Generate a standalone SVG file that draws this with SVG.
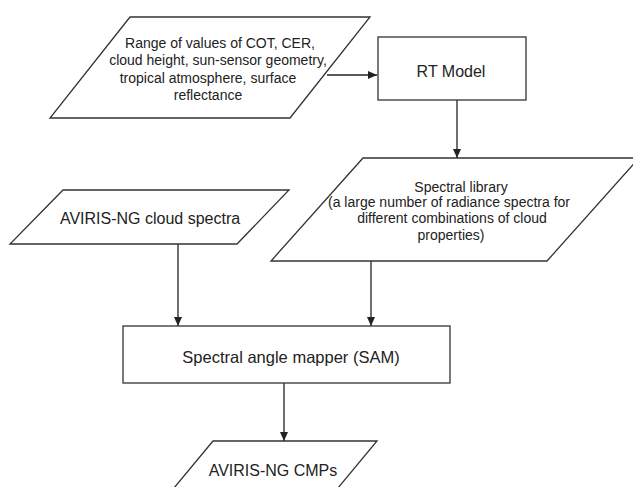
<svg xmlns="http://www.w3.org/2000/svg" width="633" height="487" viewBox="0 0 633 487">
<defs>
<style>
.shape{fill:#fff;stroke:#333;stroke-width:1.3}
.conn{fill:none;stroke:#222;stroke-width:1.3}
text{font-family:"Liberation Sans",Arial,sans-serif;fill:#222;text-anchor:middle}
.s14{font-size:14px}
.s16{font-size:16px}
</style>
<marker id="ah" markerWidth="9" markerHeight="8" refX="9" refY="4" orient="auto" markerUnits="userSpaceOnUse">
<path d="M0,0 L9,4 L0,8 Z" fill="#222"/>
</marker>
</defs>
<rect width="633" height="487" fill="#fff"/>
<g id="connectors">
<line class="conn" x1="327" y1="75" x2="377" y2="75" marker-end="url(#ah)"/>
<line class="conn" x1="457" y1="100" x2="457" y2="158" marker-end="url(#ah)"/>
<line class="conn" x1="178" y1="244" x2="178" y2="326" marker-end="url(#ah)"/>
<line class="conn" x1="371" y1="261" x2="371" y2="326" marker-end="url(#ah)"/>
<line class="conn" x1="284" y1="383" x2="284" y2="441" marker-end="url(#ah)"/>
</g>
<g id="inputs">
<polygon class="shape" points="130,17 370,17 290,118 50,118"/>
<text class="s14" x="220" y="48">Range of values of COT, CER,</text>
<text class="s14" x="218" y="65">cloud height, sun-sensor geometry,</text>
<text class="s14" x="208" y="83">tropical atmosphere, surface</text>
<text class="s14" x="208" y="100">reflectance</text>
</g>
<g id="rt-model">
<rect class="shape" x="378" y="37" width="148" height="63"/>
<text class="s16" x="451" y="77">RT Model</text>
</g>
<g id="spectral-library">
<polygon class="shape" points="363,158 639,158 547,261 271,261"/>
<text class="s14" x="461" y="192">Spectral library</text>
<text class="s14" x="449" y="207">(a large number of radiance spectra for</text>
<text class="s14" x="452" y="223">different combinations of cloud</text>
<text class="s14" x="451" y="240">properties)</text>
</g>
<g id="aviris-cloud-spectra">
<polygon class="shape" points="63,190 289,190 237,244 10,244"/>
<text class="s16" x="150" y="224">AVIRIS-NG cloud spectra</text>
</g>
<g id="sam">
<rect class="shape" x="123" y="326" width="327" height="57"/>
<text x="291" y="363" style="font-size:16.5px">Spectral angle mapper (SAM)</text>
</g>
<g id="aviris-cmps">
<polygon class="shape" points="213,441 377,441 328,500 164,500"/>
<text class="s16" x="273" y="476">AVIRIS-NG CMPs</text>
</g>
</svg>
